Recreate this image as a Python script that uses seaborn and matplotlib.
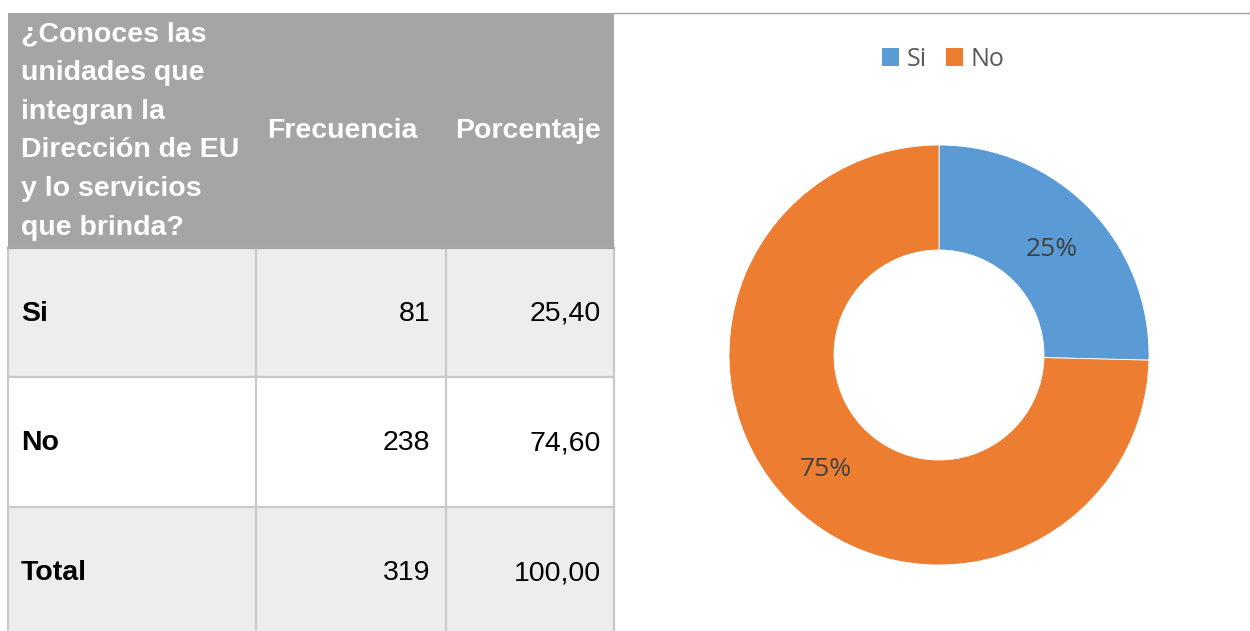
import matplotlib
matplotlib.use("Agg")
import matplotlib.pyplot as plt
import matplotlib.patches as mpatches
import seaborn as sns

# ---------------- data ----------------
header_question = ["¿Conoces las", "unidades que", "integran la",
                   "Dirección de EU", "y lo servicios", "que brinda?"]
header_cols = ["Frecuencia", "Porcentaje"]
row_labels = ["Si", "No", "Total"]
frequencies = [81, 238, 319]
percentages = [25.40, 74.60, 100.00]
pie_labels = ["Si", "No"]
pie_values = [81, 238]
pie_colors = ["#5B9BD5", "#ED7D31"]

sns.set_theme(style="white")
plt.rcParams["font.family"] = ["Liberation Sans", "DejaVu Sans"]

W, H = 1250, 631
fig = plt.figure(figsize=(W / 100, H / 100), dpi=100)
fig.patch.set_facecolor("white")

# ---------------- table (pixel coordinates) ----------------
bg = fig.add_axes([0, 0, 1, 1])
bg.set_xlim(0, W)
bg.set_ylim(H, 0)
bg.axis("off")

col_x = [8, 256, 446, 614]
head_top, head_bot = 13, 248
row_edges = [248, 377, 507, 640]
row_fill = ["#EDEDED", "#FFFFFF", "#EDEDED"]
grid_c = "#C9C9C9"
fs = 20.5

bg.add_patch(mpatches.Rectangle((col_x[0], head_top), col_x[-1] - col_x[0],
                                head_bot - head_top, facecolor="#A5A5A5",
                                edgecolor="none", zorder=1))
for i in range(len(row_labels)):
    bg.add_patch(mpatches.Rectangle((col_x[0], row_edges[i]), col_x[-1] - col_x[0],
                                    row_edges[i + 1] - row_edges[i],
                                    facecolor=row_fill[i], edgecolor="none", zorder=1))
# grid lines in body
for x in col_x:
    bg.plot([x, x], [head_bot, H + 5], color=grid_c, lw=1.6, zorder=2,
            solid_capstyle="butt")
for y in row_edges[:-1]:
    bg.plot([col_x[0], col_x[-1]], [y, y], color=grid_c, lw=1.6, zorder=2)
bg.plot([col_x[0], col_x[-1]], [head_bot, head_bot], color="#A5A5A5", lw=1.6, zorder=3)

# top rule of the chart area
bg.plot([col_x[-1], W], [13, 13], color="#A6A6A6", lw=1.0, zorder=2)

# header text
line_y0, line_dy = 34, 38.8
for k, line in enumerate(header_question):
    bg.text(21, line_y0 + k * line_dy, line, color="white", fontsize=fs,
            fontweight="bold", ha="left", va="center", zorder=4)
head_mid = (head_top + head_bot) / 2
bg.text(col_x[1] + 11, head_mid, header_cols[0], color="white", fontsize=fs,
        fontweight="bold", ha="left", va="center", zorder=4)
bg.text(col_x[2] + 9, head_mid, header_cols[1], color="white", fontsize=fs,
        fontweight="bold", ha="left", va="center", zorder=4)

# body text
row_centers = [314, 443, 573]
for lab, f, p, yc in zip(row_labels, frequencies, percentages, row_centers):
    bg.text(21, yc, lab, color="black", fontsize=fs, fontweight="bold",
            ha="left", va="center", zorder=4)
    bg.text(430, yc, f"{f}", color="black", fontsize=fs, ha="right",
            va="center", zorder=4)
    bg.text(601, yc, f"{p:.2f}".replace(".", ","), color="black", fontsize=fs,
            ha="right", va="center", zorder=4)

# ---------------- donut ----------------
cx, cy, R = 939, 355, 210
ax = fig.add_axes([(cx - R) / W, (H - cy - R) / H, 2 * R / W, 2 * R / H])
palette = sns.color_palette(pie_colors)
wedges, texts, autotexts = ax.pie(
    pie_values, colors=palette, startangle=90, counterclock=False,
    radius=1.0, autopct="%.0f%%", pctdistance=0.75,
    wedgeprops=dict(width=0.5, edgecolor="white", linewidth=0.6),
    textprops=dict(color="#404040", fontsize=19, family=["Open Sans", "DejaVu Sans"]))
for t in autotexts:
    x0, y0 = t.get_position()
    t.set_position((x0, y0 - 0.022))
ax.set_xlim(-1, 1)
ax.set_ylim(-1, 1)
ax.set_aspect("equal")
ax.axis("off")

handles = [mpatches.Patch(facecolor=c, edgecolor="none", label=l)
           for c, l in zip(palette, pie_labels)]
fig.legend(handles=handles, loc="center", bbox_to_anchor=(943 / W, 1 - 59 / H),
           ncol=2, frameon=False, handlelength=0.7, handleheight=0.7,
           handletextpad=0.3, columnspacing=0.75,
           prop=dict(family=["Open Sans", "DejaVu Sans"], size=18),
           labelcolor="#595959")

fig.savefig("out.png", dpi=100, facecolor="white")
